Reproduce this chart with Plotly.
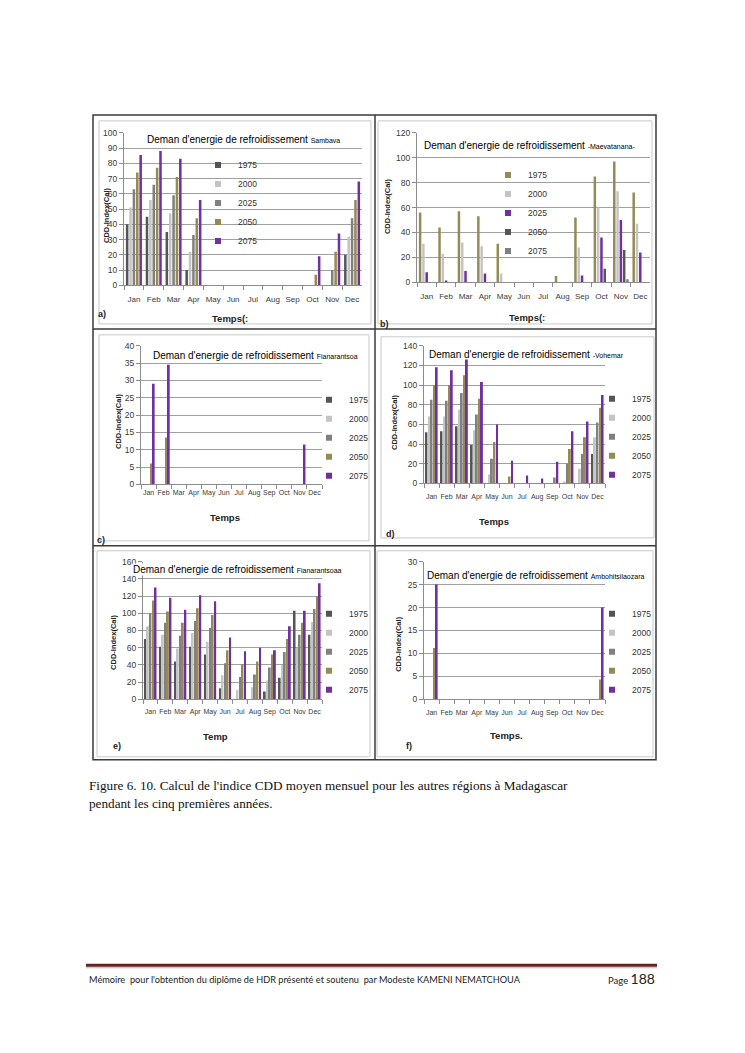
import plotly.graph_objects as go

W, H = 745, 1053
def px(x): return x / W
def py(y): return 1 - y / H

months = ["Jan", "Feb", "Mar", "Apr", "May", "Jun", "Jul", "Aug", "Sep", "Oct", "Nov", "Dec"]
years = ["1975", "2000", "2025", "2050", "2075"]

# a) Sambava (rows: 1975, 2000, 2025, 2050, 2075)
sambava = [
    [40, 45, 35, 10, 0, 0, 0, 0, 0, 0, 0, 20],
    [51, 56, 47, 22, 0, 0, 0, 0, 0, 0, 0, 32],
    [63, 66, 59, 33, 0, 0, 0, 0, 0, 0, 10, 44],
    [74, 77, 71, 44, 0, 0, 0, 0, 0, 7, 22, 56],
    [85.5, 88, 83, 56, 0, 0, 0, 0, 0, 19, 34, 68],
]
# b) Maevatanana
maevatanana = [
    [56, 44, 57, 53, 31, 0, 0, 5, 52, 85, 97, 72],
    [31, 23, 32, 29, 7, 0, 0, 0, 28, 60, 73, 47],
    [8, 1.5, 9, 7, 0, 0, 0, 0, 5.5, 36, 50, 24],
    [0, 0, 0, 0, 0, 0, 0, 0, 0, 11, 26, 0],
    [0, 0, 0, 0, 0, 0, 0, 0, 0, 0, 2.5, 0],
]
# c) Fianarantsoa
fianarantsoa_c = [
    [0, 0, 0, 0, 0, 0, 0, 0, 0, 0, 0, 0],
    [0, 0, 0, 0, 0, 0, 0, 0, 0, 0, 0, 0],
    [0, 0, 0, 0, 0, 0, 0, 0, 0, 0, 0, 0],
    [6, 13.5, 0, 0, 0, 0, 0, 0, 0, 0, 0, 0],
    [29, 34.5, 0, 0, 0, 0, 0, 0, 0, 0, 11.5, 0],
]
# d) Vohemar
vohemar = [
    [52, 53, 58, 39, 0, 0, 0, 0, 0, 0, 0, 30],
    [68, 68, 75, 54, 9, 0, 0, 0, 0, 2, 15, 47],
    [85, 84, 92, 70, 25, 0, 0, 0, 0, 20, 30, 62],
    [100, 100, 110, 86, 42, 7, 0, 0, 6, 35, 47, 77],
    [118, 115, 126, 103, 60, 23, 8, 5, 22, 53, 63, 90],
]
# e) Fianarantsoa (second station panel)
fianarantsoa_e = [
    [70, 61, 44, 61, 52, 13, 0, 0, 9, 25, 103, 75],
    [85, 75, 59, 77, 67, 28, 11, 14, 22, 40, 60, 90],
    [100, 89, 74, 91, 83, 42, 26, 29, 37, 55, 75, 105],
    [115, 102, 89, 106, 98, 57, 41, 44, 52, 70, 89, 120],
    [130, 118, 104, 121, 114, 72, 56, 60, 57, 85, 103, 135],
]
# f) Ambohitsilaozara
ambohitsilaozara = [
    [0, 0, 0, 0, 0, 0, 0, 0, 0, 0, 0, 0],
    [0, 0, 0, 0, 0, 0, 0, 0, 0, 0, 0, 0],
    [0, 0, 0, 0, 0, 0, 0, 0, 0, 0, 0, 0],
    [11.2, 0, 0, 0, 0, 0, 0, 0, 0, 0, 0, 4.3],
    [25, 0, 0, 0, 0, 0, 0, 0, 0, 0, 0, 20],
]

DARK, LIGHT, GRAY, OLIVE, PURPLE = "#555555", "#c4c4c4", "#808080", "#948a54", "#7030a0"
std_colors = [DARK, LIGHT, GRAY, OLIVE, PURPLE]
b_colors = [OLIVE, LIGHT, PURPLE, DARK, GRAY]

SANS = "Liberation Sans Narrow, Liberation Sans, Arial, sans-serif"

panels = [
    dict(data=sambava, colors=std_colors, x0=124, x1=362, y0=283, y1=129, ymax=100, dtick=10, so=6, mf=8,
         station="Sambava", tx=243, ty=136, bg=False, lx=198, ly=200, yx=107, yy=212,
         xlab="Temps(:", xx=230, xy=317, tag="a)", gx=102, gy=312),
    dict(data=maevatanana, colors=b_colors, x0=417, x1=650, y0=280, y1=129, ymax=120, dtick=20, so=6, mf=8,
         station="-Maevatanana-", tx=529, ty=142, bg=False, lx=488, ly=210, yx=387, yy=203,
         xlab="Temps(:", xx=527, xy=315, tag="b)", gx=384, gy=322),
    dict(data=fianarantsoa_c, colors=std_colors, x0=141, x1=322, y0=484, y1=344, ymax=40, dtick=5, so=1, mf=7,
         station="Fianarantsoa", tx=255, ty=354, bg=False, lx=309, ly=437, yx=118, yy=420,
         xlab="Temps", xx=225, xy=517, tag="c)", gx=101, gy=540),
    dict(data=vohemar, colors=std_colors, x0=424, x1=605, y0=483, y1=344, ymax=140, dtick=20, so=6, mf=7,
         station="-Vohemar", tx=526, ty=353, bg=False, lx=592, ly=436, yx=394, yy=421,
         xlab="Temps", xx=494, xy=521, tag="d)", gx=390, gy=534),
    dict(data=fianarantsoa_e, colors=std_colors, x0=143, x1=322, y0=701, y1=562, ymax=160, dtick=20, so=5, mf=7,
         station="Fianarantsoaa", tx=237, ty=570, bg=True, lx=309, ly=653, yx=114, yy=643,
         xlab="Temp", xx=215, xy=739, tag="e)", gx=117, gy=748),
    dict(data=ambohitsilaozara, colors=std_colors, x0=424, x1=605, y0=701, y1=562, ymax=30, dtick=5, so=6, mf=7,
         station="Ambohitsilaozara", tx=535, ty=576, bg=True, lx=592, ly=653, yx=399, yy=645,
         xlab="Temps.", xx=506, xy=738, tag="f)", gx=409, gy=748),
]

fig = go.Figure()
layout = dict(
    width=W, height=H, autosize=False,
    margin=dict(l=0, r=0, t=0, b=0),
    paper_bgcolor="white", plot_bgcolor="white",
    barmode="group", bargap=0.15, bargroupgap=0.25,
    showlegend=True,
    font=dict(family=SANS, color="#404040"),
)
annotations = []
shapes = []

for i, p in enumerate(panels):
    n = "" if i == 0 else str(i + 1)
    xa, ya = "x" + n, "y" + n
    leg = "legend" + n
    for k, yr in enumerate(years):
        fig.add_trace(go.Bar(
            x=months, y=p["data"][k], name=yr, xaxis=xa, yaxis=ya,
            marker=dict(color=p["colors"][k], line=dict(width=0)),
            showlegend=False,
        ))
        # legend proxy with a small square swatch
        fig.add_trace(go.Scatter(
            x=[None], y=[None], name=yr, mode="markers", xaxis=xa, yaxis=ya,
            marker=dict(symbol="square", size=6, color=p["colors"][k]),
            legend=leg, showlegend=True,
        ))
    layout["xaxis" + n] = dict(
        domain=[px(p["x0"]), px(p["x1"])], anchor=ya,
        type="category", categoryorder="array", categoryarray=months,
        range=[-0.5, 11.5], tickson="boundaries", ticks="outside", ticklen=4,
        tickcolor="#8c8c8c", showline=True, linecolor="#8c8c8c", linewidth=1,
        showgrid=False, zeroline=False, tickangle=0,
        tickfont=dict(size=p["mf"], color="#3a3a3a", family=SANS),
        ticklabelstandoff=p["so"], fixedrange=True,
    )
    layout["yaxis" + n] = dict(
        domain=[py(p["y0"]), py(p["y1"])], anchor=xa,
        range=[0, p["ymax"]], dtick=p["dtick"], tick0=0,
        ticks="outside", ticklen=4, tickcolor="#8c8c8c",
        showline=True, linecolor="#8c8c8c", linewidth=1,
        showgrid=True, gridcolor="#a0a0a0", gridwidth=1, zeroline=False,
        tickfont=dict(size=8.5, color="#3a3a3a", family=SANS), fixedrange=True,
    )
    layout[leg] = dict(
        x=px(p["lx"]), y=py(p["ly"]), xanchor="left", yanchor="middle",
        bgcolor="rgba(0,0,0,0)", borderwidth=0, itemsizing="trace",
        font=dict(size=8.5, color="#333333", family=SANS), tracegroupgap=0,
        itemwidth=30,
    )
    annotations.append(dict(
        x=px(p["tx"]), y=py(p["ty"]), xref="paper", yref="paper", showarrow=False,
        xanchor="center", yanchor="middle",
        text="Deman d'energie de refroidissement <span style='font-size:7px'>" + p["station"] + "</span>",
        font=dict(size=10, color="#000000", family=SANS),
        bgcolor="white" if p["bg"] else "rgba(0,0,0,0)", borderpad=0,
    ))
    annotations.append(dict(
        x=px(p["yx"]), y=py(p["yy"]), xref="paper", yref="paper", showarrow=False,
        xanchor="center", yanchor="middle",
        text="<b>CDD-Index(Cal)</b>", textangle=-90,
        font=dict(size=7.5, color="#222222", family=SANS),
    ))
    annotations.append(dict(
        x=px(p["xx"]), y=py(p["xy"]), xref="paper", yref="paper", showarrow=False,
        xanchor="center", yanchor="middle",
        text="<b>" + p["xlab"] + "</b>",
        font=dict(size=9.5, color="#222222", family=SANS),
    ))
    annotations.append(dict(
        x=px(p["gx"]), y=py(p["gy"]), xref="paper", yref="paper", showarrow=False,
        xanchor="center", yanchor="middle",
        text="<b>" + p["tag"] + "</b>",
        font=dict(size=9, color="#222222", family=SANS),
    ))

# inner chart-area frames
inner = [(99, 117, 371, 322), (378, 117, 652, 322), (99, 333, 369, 541),
         (381, 335, 654, 538), (97, 551, 370, 759), (377, 551, 653, 759)]
for (a, b, c, d) in inner:
    shapes.append(dict(type="rect", xref="paper", yref="paper",
                       x0=px(a), y0=py(b), x1=px(c), y1=py(d),
                       line=dict(color="#c8c8c8", width=1), layer="below"))
# outer figure frame and dividers
shapes.append(dict(type="rect", xref="paper", yref="paper", x0=px(93), y0=py(111), x1=px(656), y1=py(762),
                   line=dict(color="#3a3a3a", width=1.5)))
shapes.append(dict(type="line", xref="paper", yref="paper", x0=px(375), y0=py(111), x1=px(375), y1=py(762),
                   line=dict(color="#3a3a3a", width=1.5)))
for yy in (327, 546):
    shapes.append(dict(type="line", xref="paper", yref="paper", x0=px(93), y0=py(yy), x1=px(656), y1=py(yy),
                       line=dict(color="#3a3a3a", width=1.5)))
# footer rule
shapes.append(dict(type="line", xref="paper", yref="paper", x0=px(86), y0=py(969.5), x1=px(657), y1=py(969.5),
                   line=dict(color="#632423", width=3)))
shapes.append(dict(type="line", xref="paper", yref="paper", x0=px(86), y0=py(972), x1=px(657), y1=py(972),
                   line=dict(color="#b0a0a0", width=0.8)))

SERIF = "Liberation Serif, Times New Roman, serif"
annotations.append(dict(
    x=px(87), y=py(788), xref="paper", yref="paper", xanchor="left", yanchor="middle", showarrow=False,
    text="Figure 6. 10. Calcul de l'indice CDD moyen mensuel pour les autres régions à Madagascar",
    font=dict(size=13.2, color="#111111", family=SERIF),
))
annotations.append(dict(
    x=px(87), y=py(806), xref="paper", yref="paper", xanchor="left", yanchor="middle", showarrow=False,
    text="pendant les cinq premières années.",
    font=dict(size=13.2, color="#111111", family=SERIF),
))
annotations.append(dict(
    x=px(87), y=py(984), xref="paper", yref="paper", xanchor="left", yanchor="middle", showarrow=False,
    text="Mémoire  pour l'obtention du diplôme de HDR présenté et soutenu  par Modeste KAMENI NEMATCHOUA",
    font=dict(size=9.2, color="#222222", family="Lato, Open Sans, sans-serif"),
))
annotations.append(dict(
    x=px(657), y=py(983), xref="paper", yref="paper", xanchor="right", yanchor="middle", showarrow=False,
    text="Page <span style='font-size:14px'>188</span>",
    font=dict(size=9.5, color="#222222", family="Lato, Open Sans, sans-serif"),
))

layout["annotations"] = annotations
layout["shapes"] = shapes
fig.update_layout(**layout)
fig.write_html("out.html", config={"displayModeBar": False},
               post_script="document.body.style.margin='0';document.body.style.padding='0';document.body.style.overflow='hidden';")
